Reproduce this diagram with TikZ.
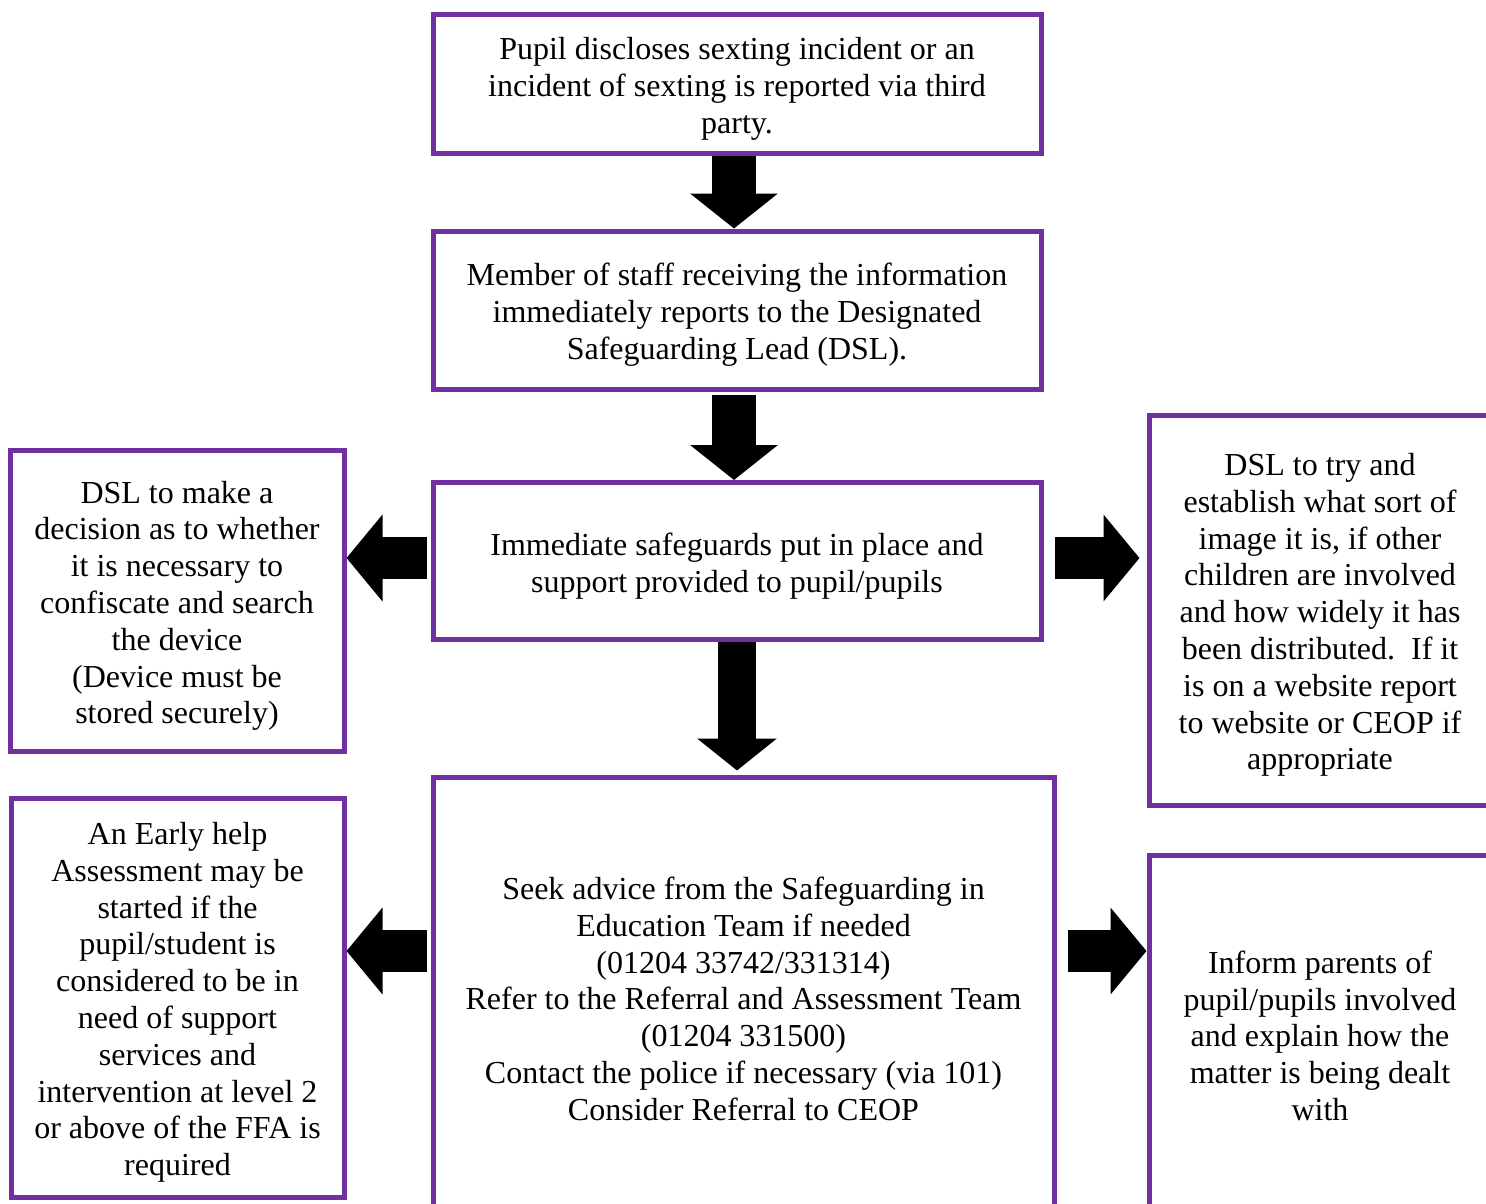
\documentclass[tikz,border=0pt]{standalone}
\usepackage{fontspec}
\setmainfont{Liberation Serif}
\usetikzlibrary{arrows.meta}
\newcommand{\topstrut}{\rule{0pt}{32pt}}

\begin{document}
\begin{tikzpicture}[x=1pt,y=-1pt,
	flowbox/.style={draw=boxColor, line width=5pt, align=center, inner sep=0pt,
		font=\fontsize{32}{36.8}\selectfont},
	downarrow/.style={line width=44pt, -{Triangle[length=35pt,width=86pt]}},
	sidearrow/.style={line width=42pt, -{Triangle[length=36pt,width=85pt]}}]
% Colors
\definecolor{boxColor}{RGB}{112,48,160}
% Page
\useasboundingbox (0,0) rectangle (1486,1203);
\clip (0,0) rectangle (1486,1203);
% Boxes
\node[flowbox, minimum width=608pt, minimum height=139pt] (pupil) at (737,84)
	{\topstrut Pupil discloses sexting incident or an\\ incident of sexting is reported via third\\ party.};
\node[flowbox, minimum width=608pt, minimum height=158pt] (staff) at (737,310)
	{\topstrut Member of staff receiving the information\\ immediately reports to the Designated\\ Safeguarding Lead (DSL).};
\node[flowbox, minimum width=608pt, minimum height=157pt] (safe) at (737,561)
	{\topstrut Immediate safeguards put in place and\\ support provided to pupil/pupils};
\node[flowbox, minimum width=334pt, minimum height=301pt] (decision) at (177,601)
	{\topstrut DSL to make a\\ decision as to whether\\ it is necessary to\\ confiscate and search\\ the device\\ (Device must be\\ stored securely)};
\node[flowbox, minimum width=342pt, minimum height=390pt] (image) at (1320,610)
	{\topstrut DSL to try and\\ establish what sort of\\ image it is, if other\\ children are involved\\ and how widely it has\\ been distributed.\ \ If it\\ is on a website report\\ to website or CEOP if\\ appropriate};
\node[flowbox, minimum width=621pt, minimum height=434pt] (advice) at (743.5,994)
	{\topstrut Seek advice from the Safeguarding in\\ Education Team if needed\\ (01204 33742/331314)\\ Refer to the Referral and Assessment Team\\ (01204 331500)\\ Contact the police if necessary (via 101)\\ Consider Referral to CEOP};
\node[flowbox, minimum width=333pt, minimum height=399pt] (earlyhelp) at (177.5,997.5)
	{\topstrut An Early help\\ Assessment may be\\ started if the\\ pupil/student is\\ considered to be in\\ need of support\\ services and\\ intervention at level 2\\ or above of the FFA is\\ required};
\node[flowbox, minimum width=342pt, minimum height=352pt] (parents) at (1320,1031)
	{\topstrut Inform parents of\\ pupil/pupils involved\\ and explain how the\\ matter is being dealt\\ with};
% Block arrows
\draw[downarrow] ([xshift=-3pt]pupil.south) -- ([xshift=-3pt]staff.north);
\draw[downarrow, shorten <=3pt] ([xshift=-3pt]staff.south) -- ([xshift=-3pt]safe.north);
\draw[line width=38pt, -{Triangle[length=32pt,width=78pt]}, shorten >=4pt]
	(safe.south) -- (safe.south |- advice.north);
\draw[sidearrow, shorten <=4pt] ([yshift=3pt]safe.west) -- ([yshift=3pt]safe.west -| decision.east);
\draw[sidearrow, shorten <=11pt, shorten >=7pt] ([yshift=3pt]safe.east) -- ([yshift=3pt]safe.east -| image.west);
\draw[sidearrow, shorten <=4pt] ([yshift=43pt]advice.west) -- ([yshift=43pt]advice.west -| earlyhelp.east);
\draw[sidearrow, shorten <=11pt] ([yshift=43pt]advice.east) -- ([yshift=43pt]advice.east -| parents.west);
\end{tikzpicture}
\end{document}
